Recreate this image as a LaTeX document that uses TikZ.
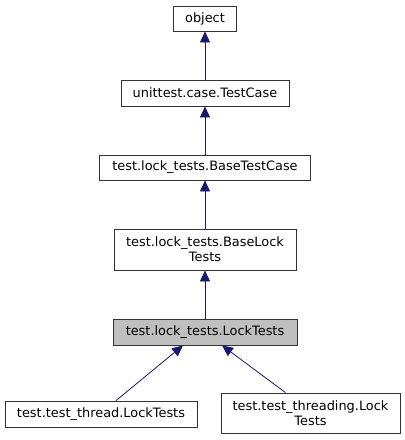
\documentclass[tikz,border=0pt]{standalone}
\usepackage{fontspec}
\setmainfont{DejaVu Sans}
\usepackage{xcolor}
\usetikzlibrary{arrows.meta}
\usetikzlibrary{positioning}
\definecolor{edgeblue}{HTML}{191970}
\definecolor{curgray}{HTML}{BFBFBF}

\begin{document}
\begin{tikzpicture}[x=1pt,y=-1pt,
  cls/.style={draw=black!80, line width=0.8pt, inner sep=0pt, align=center,
    font=\fontsize{12.9}{15}\selectfont},
  inherit/.style={edgeblue, line width=0.8pt, -{Triangle[width=10pt,length=11pt]}}]
  \useasboundingbox (0,0) rectangle (405,440);
  % class nodes
  \node[cls, minimum width=63, minimum height=25] (obj) at (205,18.5) {object};
  \node[cls, minimum width=168, minimum height=26] (tc) at (205,93) {unittest.case.TestCase};
  \node[cls, minimum width=211, minimum height=25] (btc) at (205,167.5) {test.lock\_tests.BaseTestCase};
  \node[cls, minimum width=182, minimum height=41] (blt) at (205,249.5) {test.lock\_tests.BaseLock\\Tests};
  \node[cls, fill=curgray, minimum width=184, minimum height=26] (lt) at (205,332) {test.lock\_tests.LockTests};
  \node[cls, minimum width=192, minimum height=26] (thr) at (101,414) {test.test\_thread.LockTests};
  \node[cls, minimum width=179, minimum height=40] (thrd) at (310.5,413) {test.test\_threading.Lock\\Tests};
  % inheritance
  \draw[inherit] (tc) -- (obj);
  \draw[inherit] (btc) -- (tc);
  \draw[inherit] (blt) -- (btc);
  \draw[inherit] (lt) -- (blt);
  \draw[inherit] ([xshift=15pt]thr.north) -- ([xshift=-22pt]lt.south);
  \draw[inherit] ([xshift=-25pt]thrd.north) -- ([xshift=17pt]lt.south);
\end{tikzpicture}
\end{document}
